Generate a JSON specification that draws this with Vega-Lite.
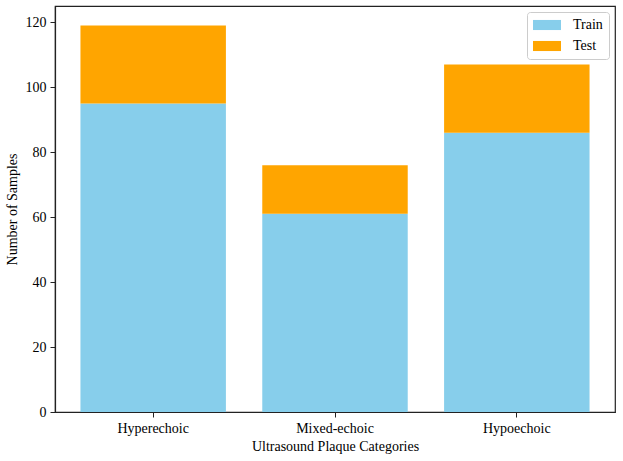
{
  "$schema": "https://vega.github.io/schema/vega-lite/v6.json",
  "width": 560,
  "height": 406,
  "padding": {"left": 55, "top": 6, "right": 8, "bottom": 49},
  "autosize": "none",
  "background": "white",
  "config": {"view": {"stroke": "#222222", "strokeWidth": 1.2}},
  "data": {"values": [
    {"category": "Hyperechoic", "split": "Train", "samples": 95, "order": 1},
    {"category": "Hyperechoic", "split": "Test", "samples": 24, "order": 2},
    {"category": "Mixed-echoic", "split": "Train", "samples": 61, "order": 1},
    {"category": "Mixed-echoic", "split": "Test", "samples": 15, "order": 2},
    {"category": "Hypoechoic", "split": "Train", "samples": 86, "order": 1},
    {"category": "Hypoechoic", "split": "Test", "samples": 21, "order": 2}
  ]},
  "mark": {"type": "bar"},
  "encoding": {
    "x": {
      "field": "category", "type": "nominal", "sort": null,
      "scale": {"paddingInner": 0.2, "paddingOuter": 0.14},
      "axis": {"title": "Ultrasound Plaque Categories", "labelAngle": 0, "labelFont": "Liberation Serif", "titleFont": "Liberation Serif", "labelFontSize": 14, "titleFontSize": 14, "titleFontWeight": "normal", "labelColor": "black", "titleColor": "black", "tickColor": "#222222", "domainColor": "#222222", "domainWidth": 1.2, "tickSize": 5, "labelPadding": 4, "grid": false, "titlePadding": 4}
    },
    "y": {
      "field": "samples", "type": "quantitative", "aggregate": "sum", "stack": "zero",
      "scale": {"domain": [0, 125]},
      "axis": {"title": "Number of Samples", "values": [0, 20, 40, 60, 80, 100, 120], "labelFont": "Liberation Serif", "titleFont": "Liberation Serif", "labelFontSize": 14, "titleFontSize": 14, "titleFontWeight": "normal", "labelColor": "black", "titleColor": "black", "tickColor": "#222222", "domainColor": "#222222", "domainWidth": 1.2, "tickSize": 5, "labelPadding": 4, "grid": false, "titlePadding": 6}
    },
    "color": {
      "field": "split", "type": "nominal", "sort": ["Train", "Test"],
      "scale": {"domain": ["Train", "Test"], "range": ["#87ceeb", "#ffa500"]},
      "legend": {"title": null, "orient": "top-right", "offset": 6, "labelFont": "Liberation Serif", "labelFontSize": 14, "labelColor": "black", "labelOffset": 26, "symbolType": "M-1,-0.72H3V0.72H-1Z", "symbolSize": 196, "symbolStrokeWidth": 0, "rowPadding": 7, "strokeColor": "#cccccc", "fillColor": "white", "cornerRadius": 3, "padding": 6}
    },
    "order": {"field": "order", "type": "quantitative"}
  }
}
